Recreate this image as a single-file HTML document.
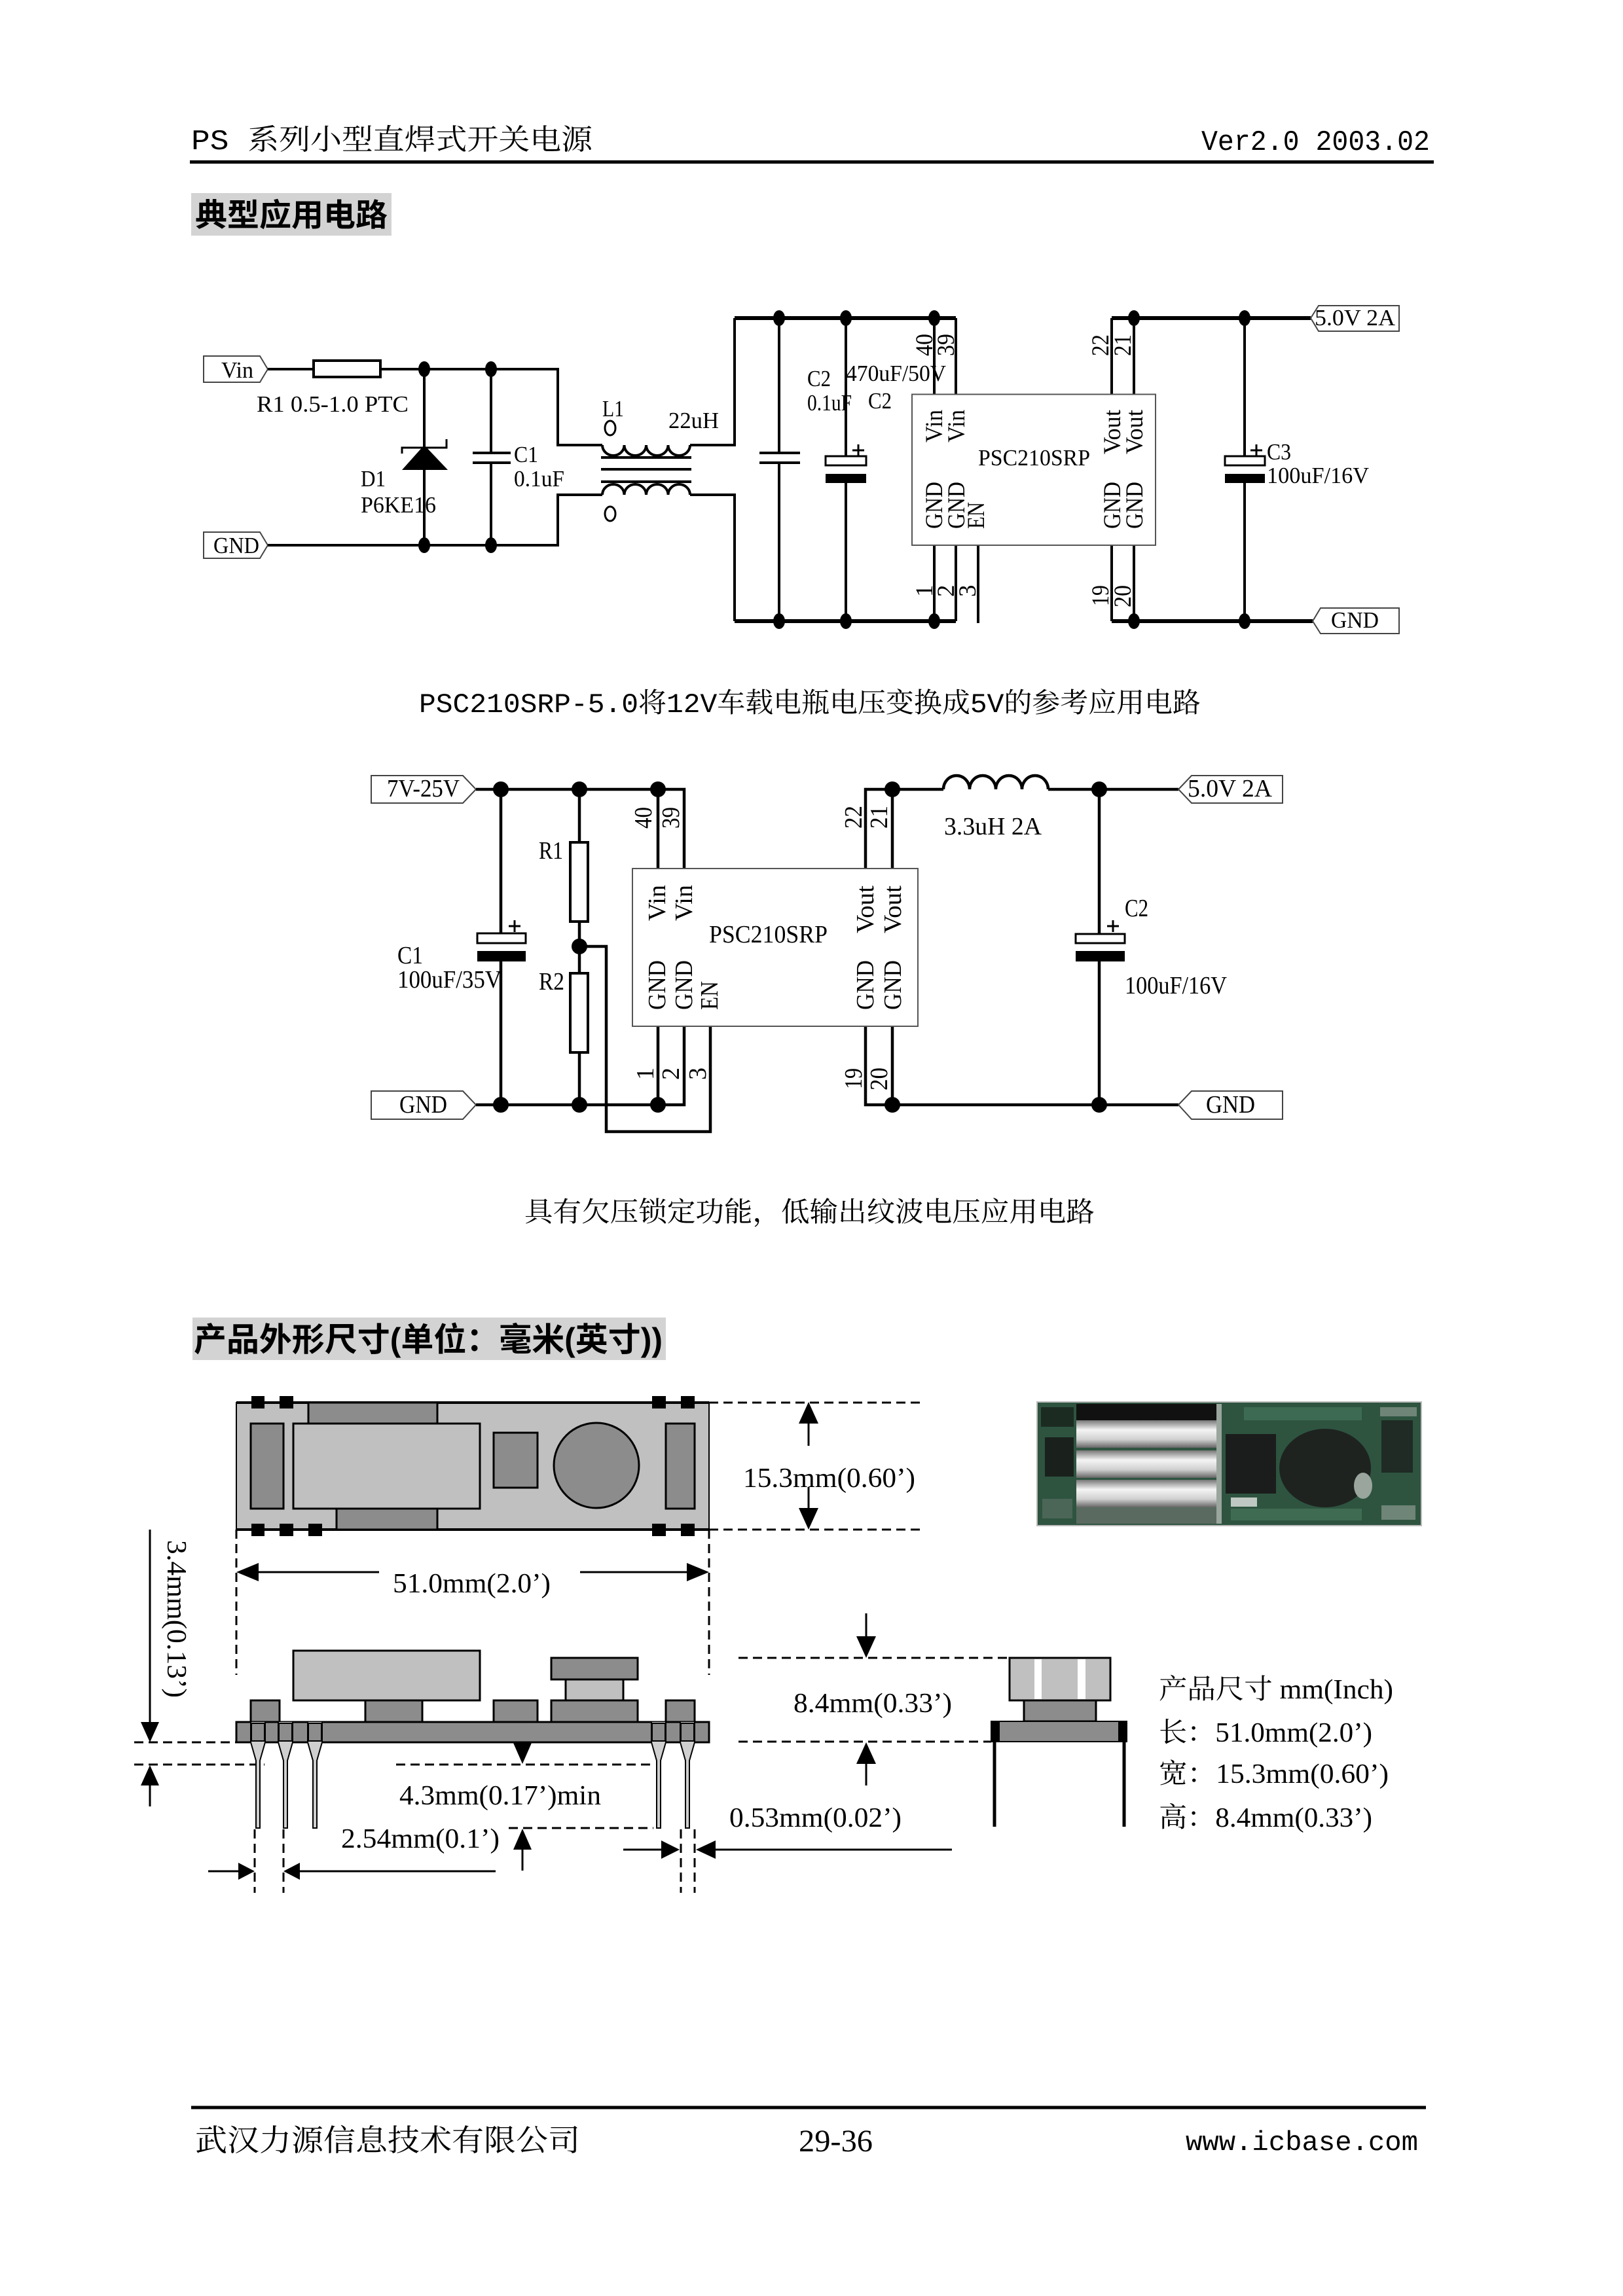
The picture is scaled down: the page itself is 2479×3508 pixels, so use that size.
<!DOCTYPE html>
<html><head><meta charset="utf-8">
<style>
html,body{margin:0;padding:0;background:#fff;}
svg{display:block;}
.s{font-family:"Liberation Serif","Noto Serif CJK SC",serif;fill:#000;}
.m{font-family:"Liberation Mono","Noto Serif CJK SC",monospace;fill:#000;}
.h{font-family:"Liberation Sans","Noto Sans CJK SC",sans-serif;fill:#000;font-weight:700;}
.w{fill:none;stroke:#000;stroke-width:4;}
.r{fill:none;stroke:#000;stroke-width:6;}
.d{fill:none;stroke:#000;stroke-width:3;stroke-dasharray:14 8;}
</style></head><body>
<svg width="2479" height="3508" viewBox="0 0 2479 3508" xmlns="http://www.w3.org/2000/svg">
<defs>
<linearGradient id="sil" x1="0" y1="0" x2="0" y2="1">
<stop offset="0" stop-color="#777"/><stop offset="0.35" stop-color="#f4f4f4"/><stop offset="0.7" stop-color="#d0d0d0"/><stop offset="1" stop-color="#666"/>
</linearGradient>
</defs>
<rect x="0" y="0" width="2479" height="3508" fill="#fff"/>

<!-- Header -->
<text class="m" x="292" y="228" font-size="44" textLength="613" lengthAdjust="spacingAndGlyphs" style="font-weight:400">PS 系列小型直焊式开关电源</text>
<text class="m" x="1835" y="229" font-size="44" textLength="349" lengthAdjust="spacingAndGlyphs">Ver2.0 2003.02</text>
<path d="M290 247.5 H2190" stroke="#000" stroke-width="5"/>

<!-- Title 1 -->
<rect x="292" y="295" width="306" height="65" fill="#d3d3d3"/>
<text class="h" x="298" y="345" font-size="48" textLength="294" lengthAdjust="spacingAndGlyphs">典型应用电路</text>

<!-- ============ Circuit 1 ============ -->
<polygon points="311,544 397,544 409,564 397,584 311,584" fill="#fff" stroke="#444" stroke-width="2"/>
<text class="s" x="338" y="577" font-size="35" textLength="49" lengthAdjust="spacingAndGlyphs">Vin</text>
<polygon points="311,813 397,813 409,833 397,853 311,853" fill="#fff" stroke="#444" stroke-width="2"/>
<text class="s" x="326" y="845" font-size="35" textLength="70" lengthAdjust="spacingAndGlyphs">GND</text>

<path class="w" d="M409 564 H479 M581 564 H852 V680 H920 M409 833 H852 V756 H920 M1054 680 H1122 V486 M1054 756 H1122 V949"/>
<rect x="479" y="551" width="102" height="25" fill="#fff" stroke="#000" stroke-width="4"/>
<!-- Diode -->
<path class="w" d="M648 564 V833"/>
<polygon points="648,680 614,718 684,718" fill="#000"/>
<path d="M614 693 V684 H682 V671" fill="none" stroke="#000" stroke-width="3"/>
<!-- C1 -->
<path class="w" d="M750 564 V692 M750 707 V833 M722 692 H780 M722 707 H780"/>
<!-- Inductor L1 -->
<path class="w" d="M920 680 a16.75 16 0 0 0 33.5 0 a16.75 16 0 0 0 33.5 0 a16.75 16 0 0 0 33.5 0 a16.75 16 0 0 0 33.5 0"/>
<path class="w" d="M920 756 a16.75 16 0 0 1 33.5 0 a16.75 16 0 0 1 33.5 0 a16.75 16 0 0 1 33.5 0 a16.75 16 0 0 1 33.5 0"/>
<path class="w" d="M918 699 H1056 M918 717 H1056 M918 736 H1056"/>
<ellipse cx="932" cy="654" rx="8" ry="11" fill="none" stroke="#000" stroke-width="3"/>
<ellipse cx="932" cy="785" rx="8" ry="11" fill="none" stroke="#000" stroke-width="3"/>
<!-- input C -->
<path class="w" d="M1190 486 V692 M1190 707 V949 M1160 692 H1222 M1160 707 H1222"/>
<!-- C2 electrolytic -->
<path class="w" d="M1292 486 V697 M1292 738 V949"/>
<rect x="1261" y="697" width="62" height="14" fill="#fff" stroke="#000" stroke-width="3"/>
<rect x="1261" y="724" width="62" height="14" fill="#000"/>
<path d="M1302 688 H1320 M1311 679 V697" stroke="#000" stroke-width="3"/>
<!-- rails -->
<path class="r" d="M1122 486 H1460 M1122 949 H1460 M1698 486 H2002 M1698 949 H2005"/>
<!-- IC pins -->
<path class="w" d="M1427 486 V602 M1460 486 V602 M1427 833 V949 M1460 833 V949 M1494 833 V952 M1698 486 V602 M1732 486 V602 M1698 833 V949 M1732 833 V949"/>
<rect x="1393" y="602.5" width="372" height="230.5" fill="#fff" stroke="#555" stroke-width="2"/>
<!-- C3 -->
<path class="w" d="M1901 486 V697 M1901 738 V949"/>
<rect x="1871" y="697" width="61" height="14" fill="#fff" stroke="#000" stroke-width="3"/>
<rect x="1871" y="724" width="61" height="14" fill="#000"/>
<path d="M1910 688 H1928 M1919 679 V697" stroke="#000" stroke-width="3"/>
<!-- dots -->
<g fill="#000">
<ellipse cx="648" cy="564" rx="9" ry="12"/><ellipse cx="750" cy="564" rx="9" ry="12"/>
<ellipse cx="648" cy="833" rx="9" ry="12"/><ellipse cx="750" cy="833" rx="9" ry="12"/>
<ellipse cx="1190" cy="486" rx="9" ry="12"/><ellipse cx="1292" cy="486" rx="9" ry="12"/><ellipse cx="1427" cy="486" rx="9" ry="12"/>
<ellipse cx="1190" cy="949" rx="9" ry="12"/><ellipse cx="1292" cy="949" rx="9" ry="12"/><ellipse cx="1427" cy="949" rx="9" ry="12"/>
<ellipse cx="1732" cy="486" rx="9" ry="12"/><ellipse cx="1901" cy="486" rx="9" ry="12"/>
<ellipse cx="1732" cy="949" rx="9" ry="12"/><ellipse cx="1901" cy="949" rx="9" ry="12"/>
</g>
<!-- output labels -->
<polygon points="2002,486 2014,467 2137,467 2137,506 2014,506" fill="#fff" stroke="#444" stroke-width="2"/>
<text class="s" x="2008" y="497" font-size="35" textLength="123" lengthAdjust="spacingAndGlyphs">5.0V  2A</text>
<polygon points="2005,949 2017,929 2137,929 2137,968 2017,968" fill="#fff" stroke="#444" stroke-width="2"/>
<text class="s" x="2033" y="959" font-size="35" textLength="73" lengthAdjust="spacingAndGlyphs">GND</text>
<!-- labels circuit 1 -->
<g class="s" font-size="35">
<text x="392" y="629" textLength="232" lengthAdjust="spacingAndGlyphs">R1 0.5-1.0  PTC</text>
<text x="551" y="743" textLength="38" lengthAdjust="spacingAndGlyphs">D1</text>
<text x="551" y="783" textLength="115" lengthAdjust="spacingAndGlyphs">P6KE16</text>
<text x="785" y="706" textLength="37" lengthAdjust="spacingAndGlyphs">C1</text>
<text x="785" y="743" textLength="77" lengthAdjust="spacingAndGlyphs">0.1uF</text>
<text x="920" y="636" textLength="33" lengthAdjust="spacingAndGlyphs">L1</text>
<text x="1021" y="654" textLength="77" lengthAdjust="spacingAndGlyphs">22uH</text>
<text x="1233" y="590" textLength="36" lengthAdjust="spacingAndGlyphs">C2</text>
<text x="1233" y="627" textLength="68" lengthAdjust="spacingAndGlyphs">0.1uF</text>
<text x="1292" y="582" textLength="153" lengthAdjust="spacingAndGlyphs">470uF/50V</text>
<text x="1326" y="624" textLength="36" lengthAdjust="spacingAndGlyphs">C2</text>
<text x="1494" y="711" textLength="171" lengthAdjust="spacingAndGlyphs">PSC210SRP</text>
<text x="1935" y="702" textLength="37" lengthAdjust="spacingAndGlyphs">C3</text>
<text x="1935" y="738" textLength="156" lengthAdjust="spacingAndGlyphs">100uF/16V</text>
</g>
<g class="s" font-size="37">
<text transform="translate(1424,544) rotate(-90)" textLength="34" lengthAdjust="spacingAndGlyphs">40</text>
<text transform="translate(1457,544) rotate(-90)" textLength="34" lengthAdjust="spacingAndGlyphs">39</text>
<text transform="translate(1693,544) rotate(-90)" textLength="33" lengthAdjust="spacingAndGlyphs">22</text>
<text transform="translate(1727,544) rotate(-90)" textLength="33" lengthAdjust="spacingAndGlyphs">21</text>
<text transform="translate(1424,912) rotate(-90)">1</text>
<text transform="translate(1457,912) rotate(-90)">2</text>
<text transform="translate(1490,912) rotate(-90)">3</text>
<text transform="translate(1693,926) rotate(-90)" textLength="32" lengthAdjust="spacingAndGlyphs">19</text>
<text transform="translate(1727,928) rotate(-90)" textLength="34" lengthAdjust="spacingAndGlyphs">20</text>
<text transform="translate(1439,676) rotate(-90)" textLength="50" lengthAdjust="spacingAndGlyphs">Vin</text>
<text transform="translate(1473,676) rotate(-90)" textLength="50" lengthAdjust="spacingAndGlyphs">Vin</text>
<text transform="translate(1439,808) rotate(-90)" textLength="72" lengthAdjust="spacingAndGlyphs">GND</text>
<text transform="translate(1473,808) rotate(-90)" textLength="72" lengthAdjust="spacingAndGlyphs">GND</text>
<text transform="translate(1503,808) rotate(-90)" textLength="41" lengthAdjust="spacingAndGlyphs">EN</text>
<text transform="translate(1711,694) rotate(-90)" textLength="68" lengthAdjust="spacingAndGlyphs">Vout</text>
<text transform="translate(1745,694) rotate(-90)" textLength="68" lengthAdjust="spacingAndGlyphs">Vout</text>
<text transform="translate(1711,808) rotate(-90)" textLength="72" lengthAdjust="spacingAndGlyphs">GND</text>
<text transform="translate(1745,808) rotate(-90)" textLength="72" lengthAdjust="spacingAndGlyphs">GND</text>
</g>

<!-- Caption 1 -->
<text class="m" x="640" y="1088" font-size="42" textLength="1194" lengthAdjust="spacingAndGlyphs">PSC210SRP-5.0将12V车载电瓶电压变换成5V的参考应用电路</text>

<!-- ============ Circuit 2 ============ -->
<polygon points="567,1185 707,1185 727,1206 707,1227 567,1227" fill="#fff" stroke="#444" stroke-width="2"/>
<text class="s" x="591" y="1217" font-size="38" textLength="111" lengthAdjust="spacingAndGlyphs">7V-25V</text>
<polygon points="567,1667 707,1667 727,1688 707,1710 567,1710" fill="#fff" stroke="#444" stroke-width="2"/>
<text class="s" x="610" y="1700" font-size="38" textLength="73" lengthAdjust="spacingAndGlyphs">GND</text>
<g fill="none" stroke="#000" stroke-width="4.5">
<path d="M727 1206 H1045 V1327 M1005 1206 V1327"/>
<path d="M765 1206 V1426 M765 1469 V1688"/>
<path d="M885 1206 V1287 M885 1408 V1487 M885 1608 V1688"/>
<path d="M885 1446 H926 V1729 H1085 V1568"/>
<path d="M727 1688 H1045 V1568 M1005 1688 V1568"/>
<path d="M1322 1327 V1206 H1441 M1363 1206 V1327"/>
<path d="M1441 1206 a20 21 0 0 1 40 0 a20 21 0 0 1 40 0 a20 21 0 0 1 40 0 a20 21 0 0 1 40 0"/>
<path d="M1601 1206 H1800"/>
<path d="M1322 1568 V1688 H1800 M1363 1568 V1688"/>
<path d="M1679 1206 V1427 M1679 1469 V1688"/>
</g>
<rect x="729" y="1426" width="74" height="15" fill="#fff" stroke="#000" stroke-width="3"/>
<rect x="729" y="1453" width="74" height="16" fill="#000"/>
<path d="M777 1415 H795 M786 1406 V1424" stroke="#000" stroke-width="3"/>
<rect x="871" y="1287" width="27" height="121" fill="#fff" stroke="#000" stroke-width="4"/>
<rect x="871" y="1487" width="27" height="121" fill="#fff" stroke="#000" stroke-width="4"/>
<rect x="966" y="1327" width="436" height="241" fill="#fff" stroke="#555" stroke-width="2"/>
<rect x="1643" y="1427" width="75" height="14" fill="#fff" stroke="#000" stroke-width="3"/>
<rect x="1643" y="1453" width="75" height="16" fill="#000"/>
<path d="M1691 1415 H1709 M1700 1406 V1424" stroke="#000" stroke-width="3"/>
<g fill="#000">
<circle cx="765" cy="1206" r="12"/><circle cx="885" cy="1206" r="12"/><circle cx="1005" cy="1206" r="12"/>
<circle cx="885" cy="1446" r="12"/>
<circle cx="765" cy="1688" r="12"/><circle cx="885" cy="1688" r="12"/><circle cx="1005" cy="1688" r="12"/>
<circle cx="1363" cy="1206" r="12"/><circle cx="1679" cy="1206" r="12"/>
<circle cx="1363" cy="1688" r="12"/><circle cx="1679" cy="1688" r="12"/>
</g>
<polygon points="1800,1206 1820,1185 1959,1185 1959,1227 1820,1227" fill="#fff" stroke="#444" stroke-width="2"/>
<text class="s" x="1814" y="1217" font-size="38" textLength="129" lengthAdjust="spacingAndGlyphs">5.0V  2A</text>
<polygon points="1800,1688 1820,1667 1959,1667 1959,1710 1820,1710" fill="#fff" stroke="#444" stroke-width="2"/>
<text class="s" x="1842" y="1700" font-size="38" textLength="75" lengthAdjust="spacingAndGlyphs">GND</text>
<g class="s" font-size="38">
<text x="607" y="1472" textLength="39" lengthAdjust="spacingAndGlyphs">C1</text>
<text x="607" y="1509" textLength="159" lengthAdjust="spacingAndGlyphs">100uF/35V</text>
<text x="823" y="1312" textLength="37" lengthAdjust="spacingAndGlyphs">R1</text>
<text x="823" y="1512" textLength="39" lengthAdjust="spacingAndGlyphs">R2</text>
<text x="1083" y="1440" textLength="181" lengthAdjust="spacingAndGlyphs">PSC210SRP</text>
<text x="1442" y="1275" textLength="149" lengthAdjust="spacingAndGlyphs">3.3uH  2A</text>
<text x="1718" y="1400" textLength="36" lengthAdjust="spacingAndGlyphs">C2</text>
<text x="1718" y="1518" textLength="156" lengthAdjust="spacingAndGlyphs">100uF/16V</text>
<text transform="translate(995,1266) rotate(-90)" textLength="33" lengthAdjust="spacingAndGlyphs">40</text>
<text transform="translate(1037,1266) rotate(-90)" textLength="33" lengthAdjust="spacingAndGlyphs">39</text>
<text transform="translate(1016,1407) rotate(-90)" textLength="55" lengthAdjust="spacingAndGlyphs">Vin</text>
<text transform="translate(1057,1407) rotate(-90)" textLength="55" lengthAdjust="spacingAndGlyphs">Vin</text>
<text transform="translate(1016,1543) rotate(-90)" textLength="76" lengthAdjust="spacingAndGlyphs">GND</text>
<text transform="translate(1057,1543) rotate(-90)" textLength="76" lengthAdjust="spacingAndGlyphs">GND</text>
<text transform="translate(1096,1543) rotate(-90)" textLength="44" lengthAdjust="spacingAndGlyphs">EN</text>
<text transform="translate(998,1650) rotate(-90)">1</text>
<text transform="translate(1037,1650) rotate(-90)">2</text>
<text transform="translate(1078,1650) rotate(-90)">3</text>
<text transform="translate(1316,1266) rotate(-90)" textLength="35" lengthAdjust="spacingAndGlyphs">22</text>
<text transform="translate(1355,1266) rotate(-90)" textLength="35" lengthAdjust="spacingAndGlyphs">21</text>
<text transform="translate(1334,1426) rotate(-90)" textLength="73" lengthAdjust="spacingAndGlyphs">Vout</text>
<text transform="translate(1376,1426) rotate(-90)" textLength="73" lengthAdjust="spacingAndGlyphs">Vout</text>
<text transform="translate(1334,1543) rotate(-90)" textLength="76" lengthAdjust="spacingAndGlyphs">GND</text>
<text transform="translate(1376,1543) rotate(-90)" textLength="76" lengthAdjust="spacingAndGlyphs">GND</text>
<text transform="translate(1316,1664) rotate(-90)" textLength="32" lengthAdjust="spacingAndGlyphs">19</text>
<text transform="translate(1355,1666) rotate(-90)" textLength="35" lengthAdjust="spacingAndGlyphs">20</text>
</g>

<!-- Caption 2 -->
<text class="m" x="801" y="1866" font-size="42" textLength="871" lengthAdjust="spacingAndGlyphs">具有欠压锁定功能，低输出纹波电压应用电路</text>

<!-- Title 2 -->
<rect x="294" y="2013" width="723" height="65" fill="#d3d3d3"/>
<text class="h" x="296" y="2064" font-size="50" textLength="716" lengthAdjust="spacingAndGlyphs">产品外形尺寸(单位：毫米(英寸))</text>

<!-- ============ Top view ============ -->
<rect x="361" y="2143" width="722" height="194" fill="#c0c0c0" stroke="#000" stroke-width="2"/>
<path d="M361 2143 H1083 M361 2337 H1083" stroke="#000" stroke-width="4"/>
<g fill="#000">
<rect x="384" y="2133" width="20" height="19"/><rect x="427" y="2133" width="21" height="19"/>
<rect x="996" y="2133" width="21" height="19"/><rect x="1040" y="2133" width="21" height="19"/>
<rect x="384" y="2328" width="20" height="19"/><rect x="427" y="2328" width="21" height="19"/><rect x="471" y="2328" width="21" height="19"/>
<rect x="996" y="2328" width="21" height="19"/><rect x="1040" y="2328" width="21" height="19"/>
</g>
<g stroke="#000" stroke-width="3" fill="#8c8c8c">
<rect x="471" y="2143" width="197" height="32"/>
<rect x="514" y="2305" width="154" height="32"/>
<rect x="383" y="2175" width="50" height="130"/>
<rect x="754" y="2189" width="67" height="84"/>
<circle cx="911" cy="2239" r="65"/>
<rect x="1017" y="2175" width="44" height="130"/>
</g>
<rect x="448" y="2175" width="285" height="130" fill="#c0c0c0" stroke="#000" stroke-width="3"/>
<!-- dims top view -->
<path class="d" d="M1083 2143 H1412 M1083 2337 H1412 M361 2337 V2559 M1083 2337 V2559"/>
<path d="M1235 2174 V2209 M1235 2272 V2305" stroke="#000" stroke-width="3"/>
<polygon points="1235,2142 1220,2175 1250,2175" fill="#000"/>
<polygon points="1235,2337 1220,2304 1250,2304" fill="#000"/>
<text class="s" x="1135" y="2272" font-size="42" textLength="263" lengthAdjust="spacingAndGlyphs">15.3mm(0.60’)</text>
<path d="M395 2402 H579 M886 2402 H1049" stroke="#000" stroke-width="3"/>
<polygon points="361,2402 395,2388 395,2416" fill="#000"/>
<polygon points="1083,2402 1049,2388 1049,2416" fill="#000"/>
<text class="s" x="600" y="2433" font-size="42" textLength="241" lengthAdjust="spacingAndGlyphs">51.0mm(2.0’)</text>

<!-- 3.4mm -->
<path d="M229 2337 V2631 M229 2728 V2760" stroke="#000" stroke-width="3"/>
<polygon points="229,2662 215,2631 243,2631" fill="#000"/>
<polygon points="229,2697 215,2728 243,2728" fill="#000"/>
<path class="d" d="M205 2662 H361 M205 2696 H404"/>
<text class="s" transform="translate(256,2353) rotate(90)" font-size="42" textLength="241" lengthAdjust="spacingAndGlyphs">3.4mm(0.13’)</text>

<!-- ============ Side view ============ -->
<g stroke="#000" stroke-width="3" fill="#8c8c8c">
<rect x="383" y="2598" width="44" height="33"/>
<rect x="1017" y="2598" width="44" height="33"/>
<rect x="558" y="2598" width="87" height="33"/>
<rect x="754" y="2598" width="67" height="33"/>
<rect x="842" y="2598" width="132" height="33"/>
<rect x="842" y="2533" width="132" height="33"/>
</g>
<rect x="864" y="2566" width="88" height="32" fill="#c0c0c0" stroke="#000" stroke-width="3"/>
<rect x="448" y="2522" width="285" height="76" fill="#c0c0c0" stroke="#000" stroke-width="3"/>
<rect x="361" y="2631" width="722" height="31" fill="#8c8c8c" stroke="#000" stroke-width="3"/>
<g stroke="#000" stroke-width="2" fill="#cfcfcf">
<path d="M383 2631 V2662 L391 2690 V2793 H397 V2690 L405 2662 V2631"/>
<path d="M425 2631 V2662 L433 2690 V2793 H439 V2690 L447 2662 V2631"/>
<path d="M470 2631 V2662 L478 2690 V2793 H484 V2690 L492 2662 V2631"/>
<path d="M995 2631 V2662 L1003 2690 V2793 H1009 V2690 L1017 2662 V2631"/>
<path d="M1039 2631 V2662 L1047 2690 V2793 H1053 V2690 L1061 2662 V2631"/>
</g>
<g stroke="#000" stroke-width="2" fill="#8c8c8c">
<rect x="384" y="2633" width="20" height="27"/><rect x="426" y="2633" width="20" height="27"/><rect x="471" y="2633" width="20" height="27"/>
<rect x="996" y="2633" width="20" height="27"/><rect x="1040" y="2633" width="20" height="27"/>
</g>
<path class="d" d="M605 2696 H998 M777 2793 H998 M389 2795 V2892 M433 2795 V2892 M1040 2795 V2892 M1061 2795 V2892"/>
<polygon points="798,2695 784,2663 812,2663" fill="#000"/>
<polygon points="798,2794 784,2826 812,2826" fill="#000"/>
<path d="M798 2826 V2858" stroke="#000" stroke-width="3"/>
<text class="s" x="610" y="2757" font-size="42" textLength="308" lengthAdjust="spacingAndGlyphs">4.3mm(0.17’)min</text>
<text class="s" x="521" y="2823" font-size="42" textLength="242" lengthAdjust="spacingAndGlyphs">2.54mm(0.1’)</text>
<path d="M318 2859 H366 M457 2859 H757" stroke="#000" stroke-width="3"/>
<polygon points="389,2859 364,2846 364,2872" fill="#000"/>
<polygon points="433,2859 458,2846 458,2872" fill="#000"/>
<path d="M952 2826 H1012 M1090 2826 H1454" stroke="#000" stroke-width="3"/>
<polygon points="1038,2826 1010,2812 1010,2840" fill="#000"/>
<polygon points="1063,2826 1093,2812 1093,2840" fill="#000"/>
<text class="s" x="1114" y="2791" font-size="42" textLength="263" lengthAdjust="spacingAndGlyphs">0.53mm(0.02’)</text>

<!-- ============ End view ============ -->
<path class="d" d="M1128 2533 H1542 M1128 2661 H1514"/>
<path d="M1323 2465 V2502 M1323 2694 V2728" stroke="#000" stroke-width="3"/>
<polygon points="1323,2533 1308,2500 1338,2500" fill="#000"/>
<polygon points="1323,2662 1308,2695 1338,2695" fill="#000"/>
<text class="s" x="1212" y="2616" font-size="42" textLength="242" lengthAdjust="spacingAndGlyphs">8.4mm(0.33’)</text>
<rect x="1542" y="2533" width="154" height="65" fill="#c0c0c0" stroke="#000" stroke-width="3"/>
<rect x="1580" y="2535" width="11" height="61" fill="#fff"/>
<rect x="1646" y="2535" width="12" height="61" fill="#fff"/>
<rect x="1564" y="2598" width="110" height="32" fill="#8c8c8c" stroke="#000" stroke-width="3"/>
<rect x="1514" y="2630" width="207" height="31" fill="#8c8c8c" stroke="#000" stroke-width="2"/>
<rect x="1514" y="2630" width="13" height="31" fill="#000"/>
<rect x="1708" y="2630" width="13" height="31" fill="#000"/>
<path d="M1519 2661 V2791 M1717 2661 V2791" stroke="#000" stroke-width="5"/>
<g class="s" font-size="42">
<text x="1770" y="2595" textLength="358" lengthAdjust="spacingAndGlyphs">产品尺寸 mm(Inch)</text>
<text x="1770" y="2661" textLength="326" lengthAdjust="spacingAndGlyphs">长：51.0mm(2.0’)</text>
<text x="1770" y="2724" textLength="351" lengthAdjust="spacingAndGlyphs">宽：15.3mm(0.60’)</text>
<text x="1770" y="2791" textLength="326" lengthAdjust="spacingAndGlyphs">高：8.4mm(0.33’)</text>
</g>

<!-- ============ Photo ============ -->
<rect x="1584" y="2142" width="587" height="189" fill="#2e5440" stroke="#bbb" stroke-width="2"/>
<rect x="1590" y="2150" width="50" height="30" fill="#1c2b22"/>
<rect x="1596" y="2196" width="44" height="60" fill="#1a211c"/>
<rect x="1592" y="2290" width="46" height="30" fill="#4b6656"/>
<rect x="1644" y="2145" width="214" height="25" fill="#111"/>
<rect x="1644" y="2170" width="214" height="42" fill="url(#sil)"/>
<rect x="1644" y="2216" width="214" height="42" fill="url(#sil)"/>
<rect x="1644" y="2261" width="214" height="42" fill="url(#sil)"/>
<rect x="1644" y="2303" width="214" height="25" fill="#5a6a60"/>
<rect x="1858" y="2145" width="8" height="183" fill="#9aa59e"/>
<rect x="1872" y="2191" width="77" height="91" fill="#1b1d1c"/>
<rect x="1880" y="2288" width="40" height="14" fill="#bfc8c2"/>
<ellipse cx="2024" cy="2243" rx="70" ry="60" fill="#1e2320"/>
<ellipse cx="2082" cy="2270" rx="14" ry="20" fill="#9aa59e"/>
<rect x="2110" y="2170" width="48" height="80" fill="#1f2b24"/>
<rect x="2108" y="2150" width="56" height="14" fill="#6f8577"/>
<rect x="2110" y="2300" width="52" height="22" fill="#6f8577"/>
<rect x="1900" y="2150" width="180" height="20" fill="#3d6a52"/>
<rect x="1880" y="2305" width="200" height="18" fill="#3f6b53"/>

<!-- Footer -->
<path d="M292 3220 H2178" stroke="#000" stroke-width="5"/>
<text class="m" x="298" y="3286" font-size="46" textLength="588" lengthAdjust="spacingAndGlyphs">武汉力源信息技术有限公司</text>
<text class="s" x="1220" y="3287" font-size="48" textLength="113" lengthAdjust="spacingAndGlyphs">29-36</text>
<text class="m" x="1811" y="3285" font-size="42" textLength="355" lengthAdjust="spacingAndGlyphs">www.icbase.com</text>
</svg>
</body></html>
